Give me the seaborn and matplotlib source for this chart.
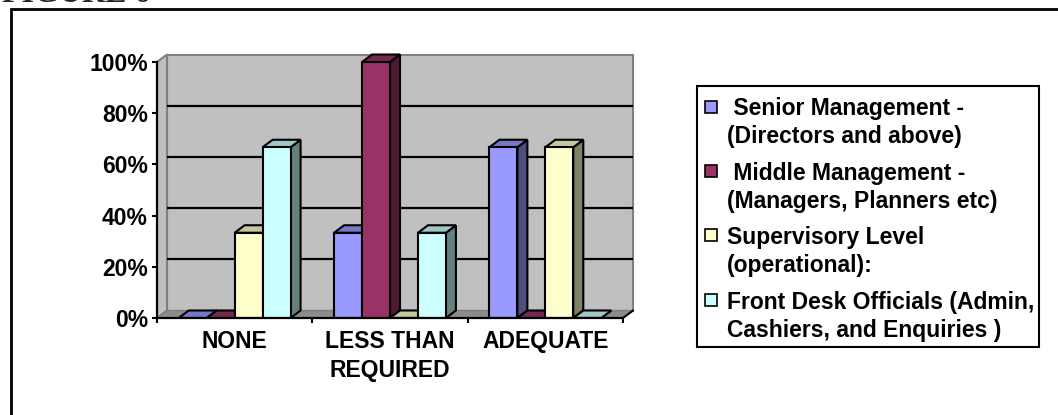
import numpy as np
import pandas as pd
import matplotlib
matplotlib.use("Agg")
import matplotlib.pyplot as plt
from matplotlib.patches import Polygon, Rectangle
from matplotlib.ticker import PercentFormatter
import seaborn as sns

# ---- data -------------------------------------------------------------
categories = ["NONE", "LESS THAN\nREQUIRED", "ADEQUATE"]
series = [
    " Senior Management -\n(Directors and above)",
    " Middle Management -\n(Managers, Planners etc)",
    "Supervisory Level\n(operational):",
    "Front Desk Officials (Admin,\nCashiers, and Enquiries )",
]
senior = [0.0, 0.333, 0.667]
middle = [0.0, 1.0, 0.0]
supervisory = [0.333, 0.0, 0.667]
front_desk = [0.667, 0.333, 0.0]
colors = ["#9999FF", "#993366", "#FFFFCC", "#CCFFFF"]
y_ticks = [0, 0.2, 0.4, 0.6, 0.8, 1.0]

df = pd.DataFrame({
    "category": np.tile(categories, len(series)),
    "group": np.repeat(series, len(categories)),
    "share": senior + middle + supervisory + front_desk,
})

# ---- figure -----------------------------------------------------------
W, H, DPI = 1058, 415, 100
FS = 16.5
sns.set_style("white")
plt.rcParams["font.family"] = ["Liberation Sans", "DejaVu Sans"]
plt.rcParams["font.weight"] = "bold"

fig = plt.figure(figsize=(W / DPI, H / DPI), dpi=DPI)


def fx(x):
    return x / W


def fy(y):
    return 1 - y / H


# plot box in pixels (left, right, baseline, top of the 3-D wall)
ax_l, ax_r, ax_b, ax_t = 157, 640, 318, 50
ax = fig.add_axes([fx(ax_l), fy(ax_b), (ax_r - ax_l) / W, (ax_b - ax_t) / H])
ax.patch.set_visible(False)
x_scale = (623 - 157) / 3.0      # pixels per category
y_scale = 318 - 62               # pixels per 100 %
DX = 10 / x_scale                # depth offset of the 3-D look
DY = 7.5 / y_scale

x0, x1 = -0.5, 2.5
wall = "#C0C0C0"
wall_edge = "#808080"

# back wall, side wall, gridlines and floor
ax.add_patch(Polygon([(x0 + DX, DY), (x1 + DX, DY), (x1 + DX, 1 + DY), (x0 + DX, 1 + DY)],
                     closed=True, fc=wall, ec=wall_edge, lw=1.5, zorder=0.5))
ax.add_patch(Polygon([(x0, 0), (x0 + DX, DY), (x0 + DX, 1 + DY), (x0, 1)],
                     closed=True, fc=wall, ec=wall_edge, lw=1.5, zorder=0.5))
for t in y_ticks[1:-1]:
    ax.plot([x0 + DX, x1 + DX], [t + DY, t + DY], color="black", lw=1.6,
            solid_capstyle="butt", zorder=0.6)
ax.add_patch(Polygon([(x0, 0), (x1, 0), (x1 + DX, DY), (x0 + DX, DY)],
                     closed=True, fc="#8C8C8C", ec=wall_edge, lw=1, zorder=0.7))
ax.plot([x1, x1 + DX], [0, DY], color="black", lw=1.5, zorder=0.8)

# front faces of the bars
sns.barplot(data=df, x="category", y="share", hue="group", order=categories,
            hue_order=series, palette=colors, saturation=1, width=0.72,
            edgecolor="black", linewidth=1.5, legend=False, ax=ax)

# side and top faces for every bar, drawn left to right
bars = sorted([p for p in ax.patches if isinstance(p, Rectangle)], key=lambda b: b.get_x())
for i, bar in enumerate(bars):
    bx, bw, bh = bar.get_x(), bar.get_width(), bar.get_height()
    rgb = np.array(bar.get_facecolor()[:3])
    z = 2 + i * 0.01
    ax.add_patch(Polygon([(bx + bw, 0), (bx + bw + DX, DY), (bx + bw + DX, bh + DY), (bx + bw, bh)],
                         closed=True, fc=rgb * 0.5, ec="black", lw=1.5, zorder=z))
    ax.add_patch(Polygon([(bx, bh), (bx + bw, bh), (bx + bw + DX, bh + DY), (bx + DX, bh + DY)],
                         closed=True, fc=rgb * 0.78, ec="black", lw=1.5, zorder=z + 0.001))
    bar.set_zorder(z + 0.002)

ax.set_xlim(x0, x0 + (ax_r - ax_l) / x_scale)
ax.set_ylim(0, (ax_b - ax_t) / y_scale)
ax.set_xlabel("")
ax.set_ylabel("")

# axes lines and ticks
sns.despine(ax=ax, top=True, right=True)
ax.spines["left"].set_bounds(0, 1)
ax.spines["bottom"].set_bounds(x0, x1)
for s in ("left", "bottom"):
    ax.spines[s].set_linewidth(1.6)
    ax.spines[s].set_color("black")
    ax.spines[s].set_zorder(3)

ax.set_yticks(y_ticks)
ax.yaxis.set_major_formatter(PercentFormatter(1.0, decimals=0))
ax.tick_params(axis="y", direction="out", length=3.6, width=1.5, pad=3,
               labelsize=FS, colors="black", left=True)
ax.set_xticks(range(len(categories)))
ax.set_xticklabels(categories)
ax.set_xticks(np.arange(x0, x1 + 0.01, 1.0), minor=True)
ax.tick_params(axis="x", which="major", length=0, pad=8.5, labelsize=FS, colors="black")
ax.tick_params(axis="x", which="minor", direction="out", length=3.6, width=1.5,
               colors="black", bottom=True)
for lbl in ax.get_xticklabels() + ax.get_yticklabels():
    lbl.set_fontweight("bold")
for lbl in ax.get_xticklabels():
    lbl.set_linespacing(1.35)

# legend box
fig.patches.append(Rectangle((fx(697), fy(347)), (1039 - 697) / W, (347 - 86) / H,
                             transform=fig.transFigure, fill=False, ec="black", lw=1.5))
for k, (label, color) in enumerate(zip(series, colors)):
    base = 115 + 64.5 * k
    fig.patches.append(Rectangle((fx(705), fy(base - 2.5)), 12 / W, 12 / H,
                                 transform=fig.transFigure, fc=color, ec="black", lw=1.2))
    for j, line in enumerate(label.split("\n")):
        fig.text(fx(727), fy(base + 28 * j), line, fontsize=FS, fontweight="bold",
                 va="baseline", ha="left", color="black")

# frame around the figure and its caption above it
fig.patches.append(Rectangle((fx(10.5), -0.1), 1.2, fy(9.5) + 0.1,
                             transform=fig.transFigure, fill=False, ec="black", lw=2))
fig.text(fx(2), fy(2), "FIGURE 6", family=["Liberation Serif", "DejaVu Serif"],
         fontweight="bold", fontsize=23, va="baseline", ha="left")

fig.savefig("out.png", dpi=DPI)
